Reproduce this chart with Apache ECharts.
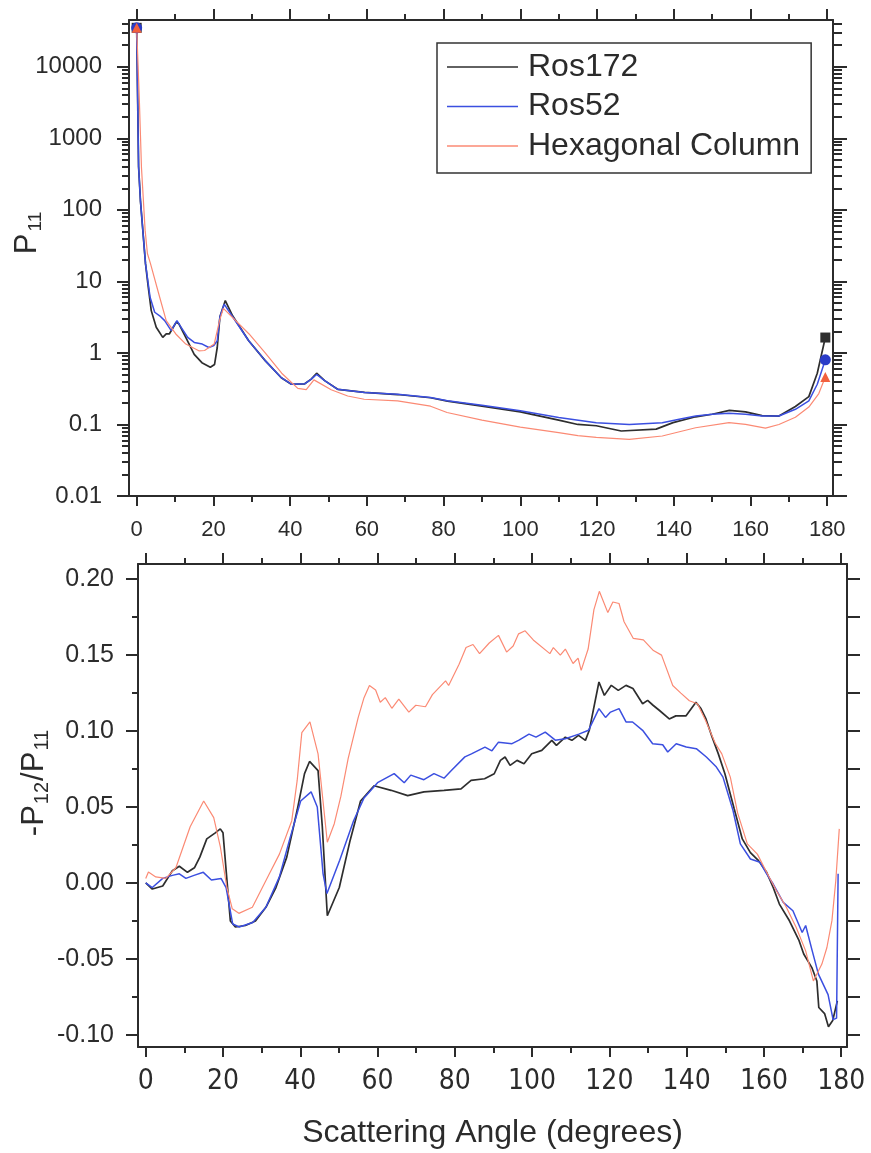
<!DOCTYPE html>
<html>
<head>
<meta charset="utf-8">
<script src="https://cdn.jsdelivr.net/npm/echarts@6.0.0/dist/echarts.min.js"></script>
<style>
  html, body { margin: 0; padding: 0; background: #ffffff; }
  #chart { width: 871px; height: 1153px; }
</style>
</head>
<body>
<div id="chart"></div>
<script>
// ---- Phase function P11 versus scattering angle (degrees) ----
const ros172P11Angle = [0, 0.5, 1.0, 1.6, 2.3, 3.0, 3.8, 5.1, 6.8, 7.7, 8.5, 10.3, 11.0, 12.8, 15.0, 17.0, 19.2, 20.3, 21.0, 21.7, 23.1, 25.0, 29.2, 33.5, 37.7, 40.3, 43.8, 45.5, 46.9, 49.0, 52.4, 59.4, 68.0, 76.6, 81.0, 90.0, 100.0, 110.0, 115.0, 119.8, 126.3, 135.4, 139.8, 145.7, 150.0, 154.5, 158.7, 163.0, 167.4, 171.7, 175.2, 177.4, 179.5];
const ros172P11 = [35000, 400, 130, 52, 17.7, 8.5, 3.9, 2.28, 1.65, 1.84, 1.84, 2.68, 2.55, 1.65, 0.955, 0.73, 0.63, 0.69, 1.19, 3.2, 5.4, 3.3, 1.48, 0.78, 0.45, 0.365, 0.37, 0.43, 0.52, 0.41, 0.31, 0.28, 0.262, 0.236, 0.212, 0.18, 0.15, 0.115, 0.1, 0.096, 0.081, 0.086, 0.106, 0.128, 0.139, 0.157, 0.15, 0.133, 0.131, 0.178, 0.245, 0.52, 1.64];

const ros52P11Angle = [0, 0.5, 1.0, 1.6, 2.3, 3.5, 4.7, 6.0, 7.3, 9.0, 10.5, 11.6, 13.3, 15.0, 17.1, 18.8, 20.1, 21.0, 21.7, 22.8, 25.0, 29.2, 33.5, 37.7, 40.3, 43.8, 45.5, 46.9, 49.0, 52.4, 59.4, 68.0, 76.6, 81.0, 90.0, 100.0, 110.0, 119.8, 128.4, 137.0, 141.4, 145.7, 150.0, 154.4, 158.7, 163.0, 167.4, 171.7, 175.2, 177.4, 179.5];
const ros52P11 = [35000, 400, 130, 52, 17.7, 6.0, 3.7, 3.3, 2.83, 2.05, 2.83, 2.28, 1.65, 1.40, 1.33, 1.19, 1.27, 1.48, 3.2, 4.8, 3.2, 1.48, 0.78, 0.45, 0.365, 0.37, 0.43, 0.50, 0.41, 0.31, 0.28, 0.265, 0.238, 0.214, 0.185, 0.155, 0.125, 0.106, 0.100, 0.106, 0.118, 0.131, 0.139, 0.143, 0.139, 0.131, 0.131, 0.163, 0.214, 0.365, 0.80];

const hexP11Angle = [0, 0.7, 1.25, 2.2, 2.8, 3.6, 6.0, 7.7, 10.2, 12.8, 16.2, 17.7, 20.2, 21.6, 22.6, 29.3, 33.5, 37.8, 42.0, 44.2, 46.2, 50.7, 55.0, 59.3, 68.0, 76.6, 80.9, 90.0, 100.0, 110.0, 115.0, 119.8, 128.4, 137.0, 145.7, 154.4, 158.7, 163.9, 167.4, 171.7, 175.2, 177.8, 179.5];
const hexP11 = [35000, 3400, 390, 52, 24.5, 17.7, 6.0, 2.83, 1.84, 1.33, 1.07, 1.08, 1.33, 2.83, 4.2, 1.84, 1.0, 0.52, 0.32, 0.306, 0.42, 0.306, 0.25, 0.225, 0.214, 0.18, 0.147, 0.115, 0.092, 0.077, 0.07, 0.066, 0.062, 0.069, 0.090, 0.106, 0.10, 0.089, 0.10, 0.126, 0.175, 0.27, 0.46];

// ---- Degree of linear polarization -P12/P11 ----
const ros172P12Angle = [0, 1.7, 4.4, 6.9, 8.7, 10.8, 12.6, 14.0, 15.8, 18.0, 19.3, 20.0, 21.9, 23.2, 25.8, 28.4, 31.1, 33.7, 36.5, 39.2, 41.1, 42.4, 44.6, 45.7, 47.0, 50.1, 52.9, 55.6, 59.1, 63.5, 67.8, 72.0, 77.2, 81.6, 84.2, 87.7, 90.2, 91.8, 93.0, 94.3, 96.1, 97.9, 99.9, 102.5, 105.1, 106.3, 108.6, 110.3, 112.0, 113.8, 114.8, 117.3, 118.7, 120.5, 122.3, 124.3, 126.1, 128.6, 129.9, 131.3, 132.9, 135.5, 137.2, 139.8, 142.4, 143.7, 145.0, 146.6, 148.2, 149.9, 152.3, 154.4, 156.5, 158.6, 160.7, 162.4, 164.0, 166.6, 169.1, 170.3, 172.4, 173.7, 174.2, 175.7, 176.7, 177.8, 179.0];
const ros172P12 = [0, -0.004, -0.002, 0.008, 0.011, 0.007, 0.010, 0.017, 0.029, 0.033, 0.0356, 0.033, -0.025, -0.029, -0.028, -0.025, -0.016, -0.003, 0.017, 0.048, 0.072, 0.080, 0.074, 0.037, -0.0216, -0.003, 0.028, 0.054, 0.064, 0.061, 0.0575, 0.060, 0.061, 0.062, 0.0675, 0.0686, 0.0719, 0.0807, 0.0829, 0.0774, 0.0807, 0.0785, 0.0851, 0.0873, 0.0939, 0.0906, 0.096, 0.0939, 0.0972, 0.0939, 0.1005, 0.1323, 0.1235, 0.1301, 0.1268, 0.1301, 0.128, 0.118, 0.1202, 0.117, 0.1137, 0.108, 0.110, 0.110, 0.119, 0.1148, 0.108, 0.096, 0.085, 0.0719, 0.0488, 0.029, 0.020, 0.0147, 0.007, -0.003, -0.0139, -0.0249, -0.038, -0.0468, -0.0557, -0.0645, -0.082, -0.086, -0.0946, -0.0906, -0.0776];

const ros52P12Angle = [0, 1.7, 4.4, 6.9, 8.7, 10.4, 12.5, 14.9, 17.0, 19.5, 20.8, 22.5, 24.2, 27.7, 31.1, 34.6, 37.4, 40.1, 42.8, 44.4, 45.9, 46.9, 50.2, 53.8, 56.5, 60.0, 64.3, 66.9, 68.6, 72.0, 74.6, 77.2, 79.1, 82.6, 84.3, 87.8, 89.6, 91.3, 94.8, 96.6, 99.2, 101.0, 103.4, 106.0, 108.6, 112.1, 114.6, 117.3, 119.0, 120.3, 122.5, 124.3, 126.0, 128.6, 131.2, 133.8, 135.1, 137.3, 139.9, 142.5, 145.1, 147.7, 149.4, 152.0, 153.9, 156.5, 159.0, 160.7, 162.4, 165.0, 167.5, 169.9, 170.8, 172.5, 174.1, 176.6, 177.9, 178.8, 179.2];
const ros52P12 = [0, -0.003, 0.003, 0.005, 0.006, 0.003, 0.005, 0.007, 0.002, 0.003, -0.003, -0.027, -0.029, -0.026, -0.016, 0.004, 0.030, 0.054, 0.060, 0.050, 0.006, -0.007, 0.015, 0.041, 0.056, 0.066, 0.072, 0.066, 0.071, 0.068, 0.072, 0.069, 0.074, 0.083, 0.085, 0.0894, 0.087, 0.0927, 0.0917, 0.094, 0.098, 0.096, 0.0993, 0.094, 0.095, 0.098, 0.1005, 0.1148, 0.109, 0.1125, 0.1148, 0.106, 0.106, 0.1005, 0.0917, 0.091, 0.0862, 0.0917, 0.0895, 0.0884, 0.0829, 0.0763, 0.0697, 0.0477, 0.0257, 0.0158, 0.0136, 0.006, -0.0007, -0.0128, -0.0183, -0.0326, -0.028, -0.0447, -0.06, -0.0735, -0.090, -0.089, 0.006];

const hexP12Angle = [0, 0.7, 2.6, 5.2, 7.8, 11.5, 15.0, 17.6, 19.3, 21.0, 22.4, 24.1, 27.6, 32.0, 34.6, 37.8, 39.2, 40.4, 42.5, 44.6, 47.0, 48.8, 50.5, 52.4, 55.0, 56.5, 57.9, 59.5, 60.7, 62.0, 63.7, 65.5, 68.1, 69.9, 72.4, 74.2, 77.6, 78.4, 81.1, 82.9, 84.7, 86.4, 88.9, 91.3, 93.4, 95.1, 96.5, 98.2, 100.3, 104.6, 105.5, 107.3, 108.6, 110.6, 111.9, 112.7, 114.5, 116.0, 117.4, 119.6, 120.9, 122.5, 123.8, 126.2, 128.8, 131.4, 133.5, 136.4, 138.5, 140.7, 142.8, 144.9, 147.4, 149.1, 151.3, 153.2, 155.7, 158.3, 160.7, 163.2, 165.8, 168.3, 170.8, 172.8, 175.0, 176.3, 177.6, 178.6, 179.5];
const hexP12 = [0.003, 0.0072, 0.004, 0.003, 0.010, 0.037, 0.054, 0.043, 0.024, -0.003, -0.017, -0.020, -0.016, 0.006, 0.019, 0.041, 0.0675, 0.099, 0.106, 0.085, 0.0268, 0.039, 0.057, 0.082, 0.109, 0.122, 0.130, 0.127, 0.119, 0.122, 0.115, 0.121, 0.1125, 0.117, 0.116, 0.124, 0.133, 0.130, 0.144, 0.155, 0.157, 0.151, 0.158, 0.163, 0.152, 0.156, 0.164, 0.166, 0.160, 0.151, 0.155, 0.150, 0.154, 0.1445, 0.148, 0.140, 0.154, 0.180, 0.192, 0.178, 0.185, 0.184, 0.172, 0.161, 0.160, 0.153, 0.150, 0.130, 0.125, 0.120, 0.118, 0.107, 0.092, 0.085, 0.0697, 0.046, 0.0257, 0.019, 0.007, -0.005, -0.016, -0.029, -0.0447, -0.0645, -0.0534, -0.0425, -0.0248, 0.0015, 0.0356];

// ---- Tick values ----
const angleTicks = [0, 20, 40, 60, 80, 100, 120, 140, 160, 180];
const angleMinorTicks = [10, 30, 50, 70, 90, 110, 130, 150, 170];
const p11Ticks = [0.01, 0.1, 1, 10, 100, 1000, 10000];
const p12Ticks = [-0.10, -0.05, 0.00, 0.05, 0.10, 0.15, 0.20];
const p12MinorTicks = [-0.075, -0.025, 0.025, 0.075, 0.125, 0.175];
const p12AllTicks = [-0.10, -0.075, -0.05, -0.025, 0.00, 0.025, 0.05, 0.075, 0.10, 0.125, 0.15, 0.175, 0.20];

const seriesNames = ['Ros172', 'Ros52', 'Hexagonal Column'];

// log-axis minor ticks at 2..9 within each decade
const p11MinorTicks = [];
p11Ticks.forEach(function (d) {
  for (let k = 2; k <= 9; k++) p11MinorTicks.push(+(k * d).toPrecision(3));
});

// ---- Styling ----
const FONT = '"Liberation Sans", Arial, Helvetica, sans-serif';
const NARROW = '"Liberation Sans Narrow", "Arial Narrow", "DejaVu Sans Condensed", "Liberation Sans", sans-serif';
const INK = '#2b2b2b';
const COLORS = { ros172: '#2e2e2e', ros52: '#3b4fe0', hex: '#fb8a74' };
const X_MIN = -2, X_MAX = 181.5;
const P11_MIN = 0.01, P11_MAX = 45000;
const P12_MIN = -0.108, P12_MAX = 0.21;

function pairs(xs, ys) { return xs.map(function (x, i) { return [x, ys[i]]; }); }

function xAxisDef(grid, position, ticks, tickLen, withLine, label) {
  return {
    type: 'value', gridIndex: grid, position: position, min: X_MIN, max: X_MAX,
    axisLine: { show: withLine, onZero: false, lineStyle: { color: INK, width: 2 } },
    axisTick: { show: true, customValues: ticks, length: tickLen, lineStyle: { color: INK, width: 2 } },
    axisLabel: label ? Object.assign({ customValues: ticks, color: INK, fontFamily: FONT }, label) : { show: false },
    splitLine: { show: false }
  };
}

function yAxisDef(grid, position, type, min, max, ticks, tickLen, withLine, label) {
  const ax = {
    type: type, gridIndex: grid, position: position, min: min, max: max,
    axisLine: { show: withLine, onZero: false, lineStyle: { color: INK, width: 2 } },
    axisTick: { show: true, customValues: ticks, length: tickLen, lineStyle: { color: INK, width: 2 } },
    axisLabel: label ? Object.assign({ customValues: ticks, color: INK, fontFamily: FONT }, label) : { show: false },
    splitLine: { show: false }
  };
  if (type === 'log') ax.logBase = 10;
  return ax;
}

const topXLabel = { fontSize: 22, margin: 23, formatter: function (v) { return String(v); } };
const botXLabel = { fontSize: 28, margin: 21, fontFamily: NARROW, formatter: function (v) { return String(v); } };
const topYLabel = { fontSize: 24, margin: 27, formatter: function (v) { return String(v); } };
const botYLabel = { fontSize: 25, margin: 24, formatter: function (v) { return v.toFixed(2); } };

const xAxes = [
  // upper panel
  xAxisDef(0, 'bottom', angleTicks, 10, true, topXLabel),
  xAxisDef(0, 'bottom', angleMinorTicks, 6, false, null),
  xAxisDef(0, 'top', angleTicks, 11, true, null),
  xAxisDef(0, 'top', angleMinorTicks, 6, false, null),
  // lower panel
  Object.assign(xAxisDef(1, 'bottom', angleTicks, 10, true, botXLabel), {
    name: 'Scattering Angle (degrees)', nameLocation: 'middle', nameGap: 70, nameMoveOverlap: false,
    nameTextStyle: { fontSize: 32, color: INK, fontFamily: FONT }
  }),
  xAxisDef(1, 'bottom', angleMinorTicks, 6, false, null),
  xAxisDef(1, 'top', angleTicks, 11, true, null),
  xAxisDef(1, 'top', angleMinorTicks, 6, false, null)
];

const yAxes = [
  // upper panel (logarithmic)
  Object.assign(yAxisDef(0, 'left', 'log', P11_MIN, P11_MAX, p11Ticks, 12, true, topYLabel), {
    name: '{p|P}{s|11}', nameLocation: 'middle', nameGap: 84, nameRotate: 90, nameMoveOverlap: false,
    nameTextStyle: {
      color: INK, fontFamily: FONT, padding: [0, 0, 0, 50],
      rich: {
        p: { fontSize: 31, fontFamily: FONT, color: INK },
        s: { fontSize: 19, fontFamily: FONT, color: INK, padding: [16, 0, 0, 2] }
      }
    }
  }),
  yAxisDef(0, 'left', 'log', P11_MIN, P11_MAX, p11MinorTicks, 7, false, null),
  yAxisDef(0, 'right', 'log', P11_MIN, P11_MAX, p11Ticks, 14, true, null),
  yAxisDef(0, 'right', 'log', P11_MIN, P11_MAX, p11MinorTicks, 9, false, null),
  // lower panel (linear)
  Object.assign(yAxisDef(1, 'left', 'value', P12_MIN, P12_MAX, p12Ticks, 12, true, botYLabel), {
    name: '{p|-P}{s|12}{p|/P}{s|11}', nameLocation: 'middle', nameGap: 86, nameRotate: 90, nameMoveOverlap: false,
    nameTextStyle: {
      color: INK, fontFamily: FONT, padding: [0, 0, 0, 46],
      rich: {
        p: { fontSize: 31, fontFamily: FONT, color: INK },
        s: { fontSize: 20, fontFamily: FONT, color: INK, padding: [16, 1, 0, 1] }
      }
    }
  }),
  yAxisDef(1, 'left', 'value', P12_MIN, P12_MAX, p12MinorTicks, 6, false, null),
  yAxisDef(1, 'right', 'value', P12_MIN, P12_MAX, p12AllTicks, 13, true, null)
];

function lineSeries(name, color, width, xs, ys, gi) {
  return {
    name: name, type: 'line', xAxisIndex: gi === 0 ? 0 : 4, yAxisIndex: gi === 0 ? 0 : 4,
    data: pairs(xs, ys), symbol: 'none', showSymbol: false, smooth: false,
    lineStyle: { color: color, width: width }, itemStyle: { color: color },
    emphasis: { disabled: true }, animation: false
  };
}

// end-point markers of the P11 curves
function endMarkers(name, color, symbol, size, xs, ys) {
  const n = xs.length - 1;
  return {
    name: name, type: 'scatter', xAxisIndex: 0, yAxisIndex: 0,
    data: [[xs[0], ys[0]], [xs[n], ys[n]]],
    symbol: symbol, symbolSize: size, itemStyle: { color: color, opacity: 1 },
    emphasis: { disabled: true }, animation: false, z: 5
  };
}

// plain line sample used as legend key
const LEGEND_LINE = 'path://M0,0H142V3H0Z';

const option = {
  backgroundColor: '#ffffff',
  animation: false,
  grid: [
    { left: 129, top: 20, width: 704, height: 476, containLabel: false, outerBoundsMode: 'none' },
    { left: 138, top: 564, width: 709, height: 483, containLabel: false, outerBoundsMode: 'none' }
  ],
  legend: {
    data: seriesNames.map(function (n) { return { name: n, icon: LEGEND_LINE }; }),
    orient: 'vertical', left: 437, top: 43,
    padding: [8, 11, 11, 10], itemGap: 7.5,
    itemWidth: 71, itemHeight: 14,
    borderColor: '#333333', borderWidth: 1.5, backgroundColor: '#ffffff',
    textStyle: { fontSize: 32, lineHeight: 32, color: INK, fontFamily: FONT, padding: [0, 0, 0, 5] },
    selectedMode: false
  },
  xAxis: xAxes,
  yAxis: yAxes,
  series: [
    lineSeries(seriesNames[0], COLORS.ros172, 1.7, ros172P11Angle, ros172P11, 0),
    lineSeries(seriesNames[1], COLORS.ros52, 1.5, ros52P11Angle, ros52P11, 0),
    lineSeries(seriesNames[2], COLORS.hex, 1.2, hexP11Angle, hexP11, 0),
    endMarkers('Ros172 ends', COLORS.ros172, 'rect', 10, ros172P11Angle, ros172P11),
    endMarkers('Ros52 ends', '#2a3cc8', 'circle', 11, ros52P11Angle, ros52P11),
    endMarkers('Hexagonal Column ends', '#f2603e', 'triangle', 10, hexP11Angle, hexP11),
    lineSeries(seriesNames[0], COLORS.ros172, 1.7, ros172P12Angle, ros172P12, 1),
    lineSeries(seriesNames[1], COLORS.ros52, 1.5, ros52P12Angle, ros52P12, 1),
    lineSeries(seriesNames[2], COLORS.hex, 1.2, hexP12Angle, hexP12, 1)
  ]
};

const chart = echarts.init(document.getElementById('chart'), null, { renderer: 'canvas' });
chart.setOption(option);
</script>
</body>
</html>
